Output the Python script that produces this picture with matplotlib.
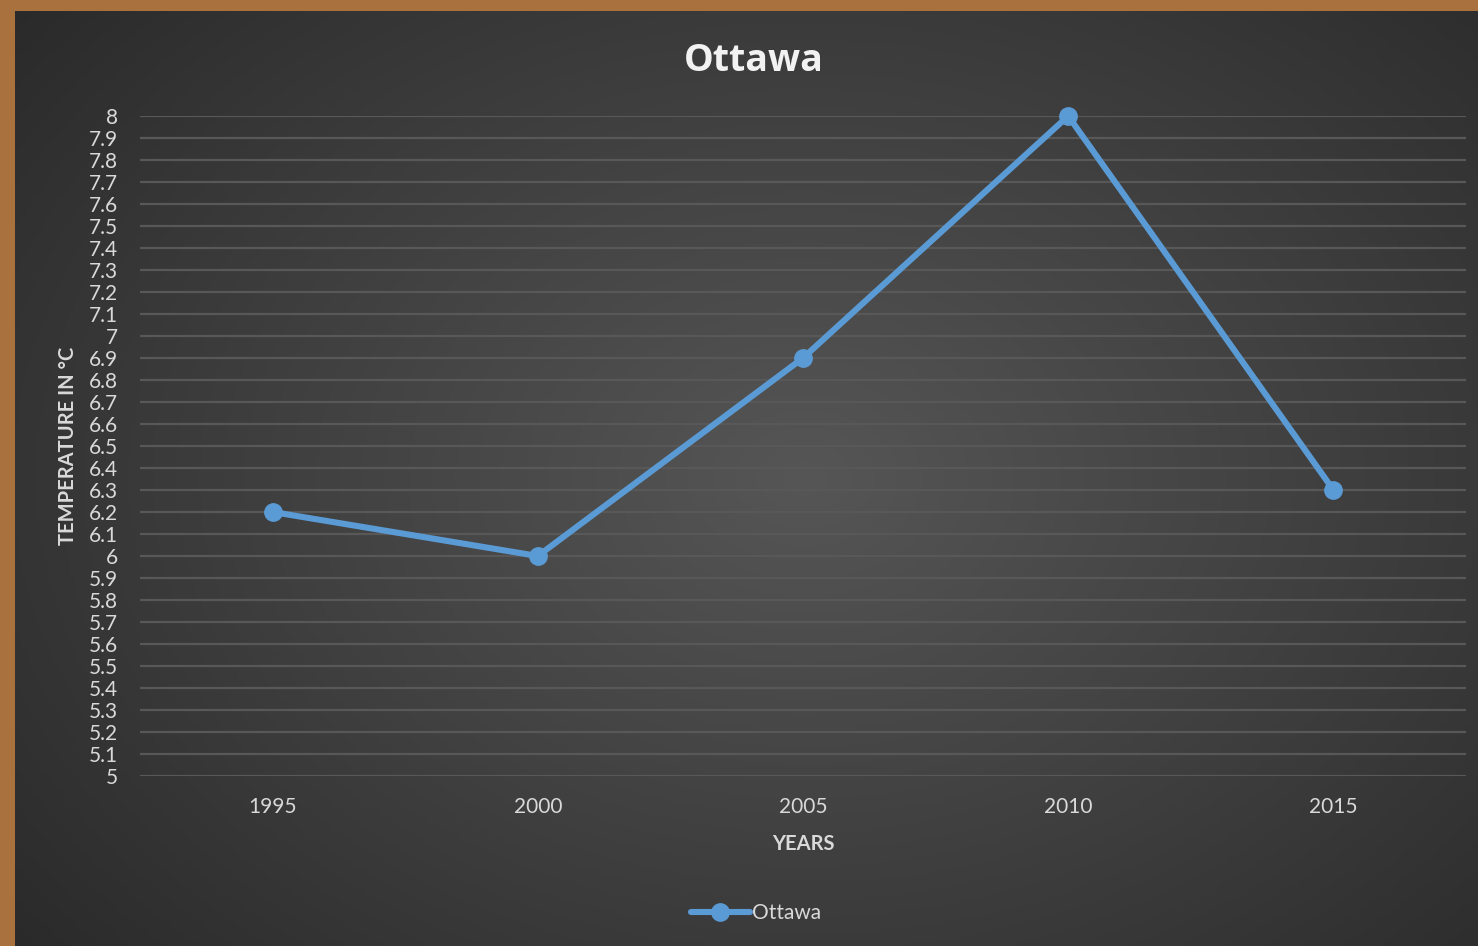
import matplotlib
matplotlib.use('Agg')
import matplotlib.pyplot as plt
import numpy as np

plt.rcParams['font.family'] = ['Lato', 'DejaVu Sans']

# data
years = ['1995', '2000', '2005', '2010', '2015']
ottawa_temp = [6.2, 6.0, 6.9, 8.0, 6.3]
y_ticks = np.round(np.arange(5.0, 8.01, 0.1), 1)
y_labels = [f'{v:g}' for v in y_ticks]

W, H = 1478, 946
fig = plt.figure(figsize=(W / 100, H / 100), dpi=100)
fig.patch.set_facecolor('#a8713e')

# dark panel with radial gradient (PowerPoint style)
bg = fig.add_axes([15 / W, 0, 1 - 15 / W, 1 - 11 / H])
gx, gy = np.meshgrid(np.linspace(0, 1, 400), np.linspace(0, 1, 260))
d = np.sqrt(((gx - 0.54) / 0.75) ** 2 + ((gy - 0.5) / 0.85) ** 2)
d = np.clip(d, 0, 1)
c0 = np.array([0x56, 0x56, 0x56]) / 255
c1 = np.array([0x27, 0x27, 0x27]) / 255
img = c0[None, None, :] * (1 - d[..., None]) + c1[None, None, :] * d[..., None]
bg.imshow(img, aspect='auto', extent=[0, 1, 0, 1], origin='upper')
bg.set_axis_off()

ax = fig.add_axes([140 / W, 1 - 776 / H, (1466 - 140) / W, (776 - 116) / H])
ax.patch.set_alpha(0)
x = np.arange(len(years))
ax.plot(x, ottawa_temp, color='#5b9bd5', linewidth=4.4, marker='o',
        markersize=12.5, solid_capstyle='round', zorder=3, label='Ottawa',
        clip_on=False)

ax.set_xlim(-0.5, len(years) - 0.5)
ax.set_ylim(5, 8)
ax.set_yticks(y_ticks)
ax.set_yticklabels(y_labels)
ax.set_xticks(x)
ax.set_xticklabels(years)
ax.tick_params(axis='both', length=0, colors='#d9d9d9', labelsize=15)
ax.tick_params(axis='y', pad=16)
ax.tick_params(axis='x', pad=15)
ax.grid(axis='y', color='#585858', linewidth=1.6)
ax.set_axisbelow(True)
for s in ax.spines.values():
    s.set_visible(False)

ax.set_ylabel('TEMPERATURE IN °C', fontsize=14.5, fontweight='bold',
              color='#d9d9d9', labelpad=8)
ax.set_xlabel('YEARS', fontsize=14.5, fontweight='bold', color='#d9d9d9',
              labelpad=12)

fig.text(754 / W, 1 - 61 / H, 'Ottawa', fontsize=27, fontweight='bold',
         color='#f2f2f2', ha='center', va='center', family='Open Sans')

leg = ax.legend(loc='center', bbox_to_anchor=((756 - 140) / 1326, (776 - 913) / (776 - 116)),
                frameon=False, fontsize=15, handlelength=2.8,
                handletextpad=0.1, labelcolor='#d9d9d9')

plt.savefig('out.png', dpi=100)
